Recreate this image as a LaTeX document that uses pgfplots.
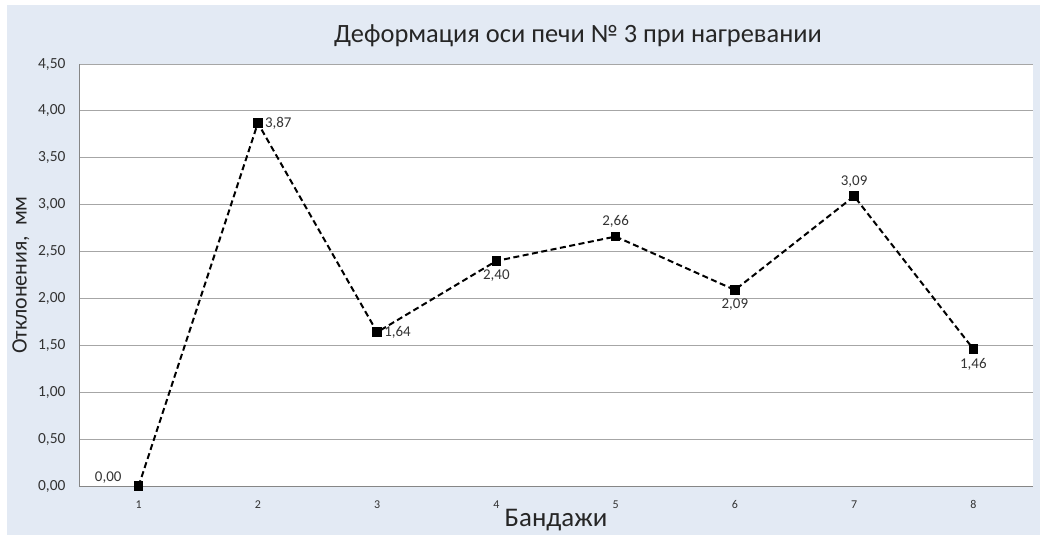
\documentclass[border=0pt]{standalone}
\usepackage{pgfplots}
\pgfplotsset{compat=1.18}
\usepackage{fontspec}
\setmainfont{Carlito}
\definecolor{panelbg}{HTML}{E3EAF4}
\definecolor{gridgray}{HTML}{A6A6A6}
\definecolor{axisgray}{HTML}{868686}

\begin{document}
\begin{tikzpicture}[x=1bp,y=1bp]
\path[use as bounding box] (0,0) rectangle (1049,542);
\fill[panelbg] (7,7) rectangle (1040,537);
\node[font=\fontsize{26.5}{31}\selectfont, text=black!85] at (578,506) {Деформация оси печи № 3 при нагревании};
\begin{axis}[
  at={(79bp,56bp)}, anchor=south west,
  width=954bp, height=422bp, scale only axis,
  axis background/.style={fill=white},
  xmin=0.5, xmax=8.5, ymin=0, ymax=4.5,
  xtick={1,...,8},
  ytick={0,0.5,...,4.5},
  ymajorgrids, grid style={gridgray, line width=0.8bp},
  axis x line*=bottom, axis y line*=left,
  axis line style={axisgray, line width=0.9bp},
  x axis line style={-}, y axis line style={-},
  tick style={draw=none},
  /pgf/number format/.cd, use comma, fixed, fixed zerofill, precision=2, assume math mode=true,
  /pgfplots/.cd,
  yticklabel style={font=\fontsize{15.5}{17}\selectfont, text=black!80, xshift=-10bp},
  xticklabel style={font=\fontsize{12}{14}\selectfont, text=black!80, yshift=-11bp,
    /pgf/number format/precision=0},
  xlabel={Бандажи}, xlabel style={font=\fontsize{27}{31}\selectfont, text=black!85, yshift=6bp},
  ylabel={Отклонения,\ \ мм}, ylabel style={font=\fontsize{22}{26}\selectfont, text=black!85, yshift=2bp},
  clip=false,
  lbl/.style={draw=none, mark=none, nodes near coords,
    nodes near coords style={anchor=#1, font=\fontsize{15}{17}\selectfont, text=black!80,
      inner xsep=7bp, inner ysep=9bp}},
]
% deflection of the kiln axis at each tyre
\addplot[black, line width=2bp, dash pattern=on 6bp off 3.5bp,
  mark=square*, mark size=3.8bp, mark options={solid}]
  coordinates {(1,0.00) (2,3.87) (3,1.64) (4,2.40) (5,2.66) (6,2.09) (7,3.09) (8,1.46)};
% value labels, grouped by side
\addplot[lbl={south east}, nodes near coords style={inner xsep=17bp, inner ysep=2bp}] coordinates {(1,0.00)};
\addplot[lbl=west] coordinates {(2,3.87) (3,1.64)};
\addplot[lbl=north] coordinates {(4,2.40) (6,2.09) (8,1.46)};
\addplot[lbl=south] coordinates {(5,2.66) (7,3.09)};
\end{axis}
\end{tikzpicture}
\end{document}
